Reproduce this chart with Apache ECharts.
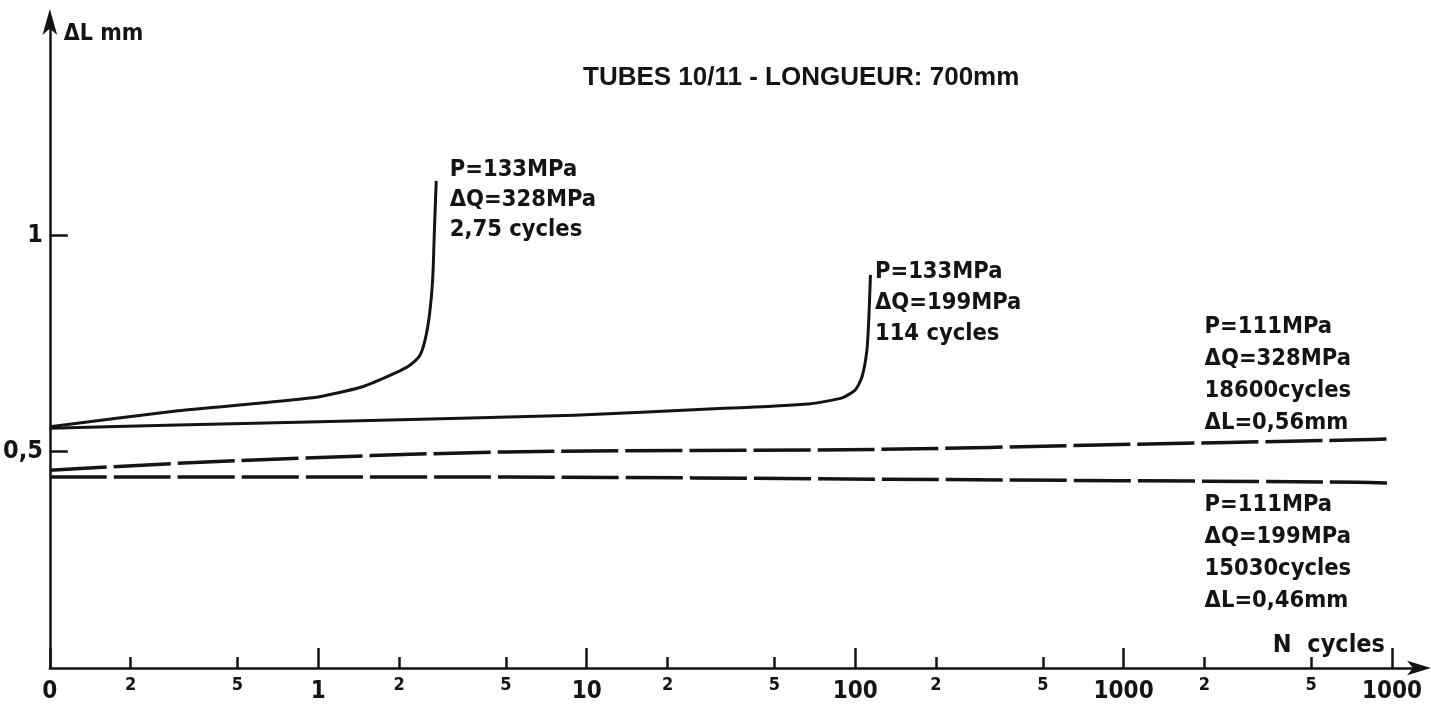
<!DOCTYPE html>
<html>
<head>
<meta charset="utf-8">
<script src="https://cdn.jsdelivr.net/npm/echarts@6/dist/echarts.min.js"></script>
<style>
  html, body { margin: 0; padding: 0; background: #ffffff; }
  #chart { width: 1431px; height: 723px; }
</style>
</head>
<body>
<div id="chart"></div>
<script>
// Axis ticks (N cycles on a logarithmic scale, elongation in mm)
const majorTicks = [0.1, 1, 10, 100, 1000, 10000];
const majorTickLabels = ['0', '1', '10', '100', '1000', '1000'];
const minorTicks = [0.2, 0.5, 2, 5, 20, 50, 200, 500, 2000, 5000];
const minorTickLabels = ['2', '5', '2', '5', '2', '5', '2', '5', '2', '5'];
const yTicks = [0.5, 1];
const yTickLabels = ['0,5', '1'];

// P=133MPa, ΔQ=328MPa : rupture after 2,75 cycles
const n1  = [0.1, 0.3, 0.95, 1.45, 1.93, 2.2, 2.38, 2.5, 2.6, 2.67, 2.71, 2.75];
const dl1 = [0.557, 0.594, 0.624, 0.649, 0.681, 0.700, 0.720, 0.758, 0.820, 0.903, 1.018, 1.125];

// P=133MPa, ΔQ=199MPa : rupture after 114 cycles
const n2  = [0.1, 0.3, 3.4, 9, 28.5, 67, 89.5, 100, 106, 110.6, 112.5, 114];
const dl2 = [0.554, 0.561, 0.577, 0.584, 0.598, 0.610, 0.624, 0.642, 0.672, 0.734, 0.811, 0.908];

// P=111MPa, ΔQ=328MPa : 18600 cycles
const n3  = [0.1, 0.5, 5, 125, 800, 7500, 10000];
const dl3 = [0.457, 0.479, 0.499, 0.505, 0.515, 0.527, 0.529];

// P=111MPa, ΔQ=199MPa : 15030 cycles
const n4  = [0.1, 5, 125, 7500, 10000];
const dl4 = [0.441, 0.441, 0.436, 0.429, 0.427];

const captions = [
  'P=133MPa\nΔQ=328MPa\n2,75 cycles',
  'P=133MPa\nΔQ=199MPa\n114 cycles',
  'P=111MPa\nΔQ=328MPa\n18600cycles\nΔL=0,56mm',
  'P=111MPa\nΔQ=199MPa\n15030cycles\nΔL=0,46mm'
];

const INK = '#141414';
const FONT = "'DejaVu Sans Condensed', 'Liberation Sans Narrow', sans-serif";

function pairs(xs, ys) { return xs.map((x, i) => [x, ys[i]]); }
function lookup(values, labels, v) {
  for (let i = 0; i < values.length; i++) {
    if (Math.abs(values[i] - v) / values[i] < 1e-6) return labels[i];
  }
  return '';
}

function curve(xs, ys, caption, dashed, labelPos, lineHeight) {
  const data = pairs(xs, ys);
  const last = data[data.length - 1];
  return {
    type: 'line',
    xAxisIndex: 0,
    data: data,
    symbol: 'none',
    smooth: dashed ? 0.3 : 0.2,
    silent: true,
    lineStyle: { color: INK, width: dashed ? 3.5 : 3, type: dashed ? [57, 7] : 'solid', cap: 'butt', join: 'round' },
    markPoint: {
      symbol: 'rect',
      symbolSize: 1,
      silent: true,
      itemStyle: { color: 'transparent' },
      label: {
        show: true,
        position: labelPos,
        formatter: caption,
        color: INK,
        fontFamily: FONT,
        fontWeight: 'bold',
        fontSize: 23.5,
        lineHeight: lineHeight
      },
      data: [{ coord: last }]
    }
  };
}

const chart = echarts.init(document.getElementById('chart'), null, { renderer: 'canvas' });

const xCommon = {
  type: 'log',
  logBase: 10,
  min: 0.1,
  max: 12600,
  position: 'bottom',
  splitLine: { show: false },
  minorTick: { show: false },
  minorSplitLine: { show: false }
};

chart.setOption({
  animation: false,
  backgroundColor: '#ffffff',
  title: {
    text: 'TUBES 10/11 - LONGUEUR: 700mm',
    left: 578,
    top: 60,
    textStyle: { color: INK, fontFamily: "'Liberation Sans', sans-serif", fontWeight: 'bold', fontSize: 26 }
  },
  grid: { left: 44, right: 12, top: 22, bottom: 55, containLabel: false },
  xAxis: [
    Object.assign({}, xCommon, {
      name: 'N  cycles',
      nameLocation: 'end',
      nameGap: -34,
      nameTextStyle: {
        color: INK, fontFamily: FONT, fontWeight: 'bold', fontSize: 25,
        align: 'right', verticalAlign: 'bottom', padding: [0, 0, 10, 0]
      },
      axisLine: {
        show: true, onZero: false,
        lineStyle: { color: INK, width: 2.5 },
        symbol: ['none', 'arrow'], symbolSize: [11, 24], symbolOffset: [0, 12]
      },
      axisTick: { show: true, inside: true, length: 20, lineStyle: { color: INK, width: 2.5 }, customValues: majorTicks },
      axisLabel: {
        show: true, margin: 12, color: INK, fontFamily: FONT, fontWeight: 'bold', fontSize: 24,
        customValues: majorTicks,
        formatter: v => lookup(majorTicks, majorTickLabels, v)
      }
    }),
    Object.assign({}, xCommon, {
      axisLine: { show: false, onZero: false },
      axisTick: { show: true, inside: true, length: 11, lineStyle: { color: INK, width: 2.5 }, customValues: minorTicks },
      axisLabel: {
        show: true, margin: 8, color: INK, fontFamily: FONT, fontWeight: 'bold', fontSize: 18,
        customValues: minorTicks,
        formatter: v => lookup(minorTicks, minorTickLabels, v)
      }
    })
  ],
  yAxis: {
    type: 'value',
    min: 0,
    max: 1.492,
    name: 'ΔL mm',
    nameLocation: 'end',
    nameGap: -12,
    nameTextStyle: {
      color: INK, fontFamily: FONT, fontWeight: 'bold', fontSize: 23,
      align: 'left', verticalAlign: 'middle', padding: [0, 0, 0, 14]
    },
    splitLine: { show: false },
    axisLine: {
      show: true, lineStyle: { color: INK, width: 2.5 },
      symbol: ['none', 'arrow'], symbolSize: [11, 26], symbolOffset: [0, 13]
    },
    axisTick: { show: true, inside: true, length: 18, lineStyle: { color: INK, width: 2.5 }, customValues: yTicks },
    axisLabel: {
      show: true, margin: 7, color: INK, fontFamily: FONT, fontWeight: 'bold', fontSize: 25,
      customValues: yTicks,
      formatter: v => lookup(yTicks, yTickLabels, v)
    }
  },
  series: [
    curve(n1, dl1, captions[0], false, [14, -26], 30),
    curve(n2, dl2, captions[1], false, [5, -18], 31),
    curve(n3, dl3, captions[2], true, [-187, -128], 32),
    curve(n4, dl4, captions[3], true, [-187, 6], 32)
  ]
});
</script>
</body>
</html>
